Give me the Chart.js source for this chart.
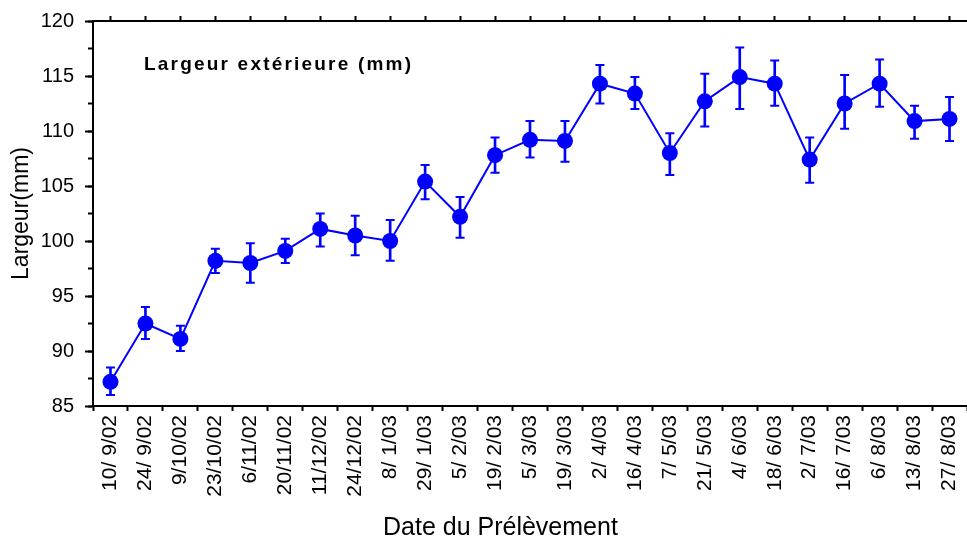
<!DOCTYPE html>
<html>
<head>
<meta charset="utf-8">
<script src="https://cdn.jsdelivr.net/npm/chart.js@4/dist/chart.umd.min.js"></script>
<style>
  html, body { margin: 0; padding: 0; background: #fff; overflow: hidden; }
  #wrap { position: relative; width: 967px; height: 537px; overflow: hidden; }
  #cv { display: block; }
  .lbl { position: absolute; color: #000; white-space: nowrap; font-family: "Liberation Sans", Arial, sans-serif; }
  #inner-title { left: 144px; top: 53px; font-weight: bold; font-size: 19px; line-height: 22px; letter-spacing: 2.2px; }
  #x-title { left: 383px; top: 514px; font-size: 25px; line-height: 25px; }
</style>
</head>
<body>
<div id="wrap">
  <canvas id="cv" width="967" height="537"></canvas>
  <div class="lbl" id="inner-title">Largeur extérieure (mm)</div>
  <div class="lbl" id="x-title">Date du Prélèvement</div>
</div>
<script>
// dates de prélèvement
const dates = ['10/ 9/02','24/ 9/02','9/10/02','23/10/02','6/11/02','20/11/02','11/12/02','24/12/02',
  '8/ 1/03','29/ 1/03','5/ 2/03','19/ 2/03','5/ 3/03','19/ 3/03','2/ 4/03','16/ 4/03','7/ 5/03',
  '21/ 5/03','4/ 6/03','18/ 6/03','2/ 7/03','16/ 7/03','6/ 8/03','13/ 8/03','27/ 8/03'];

// largeur moyenne (mm)
const largeur = [87.2, 92.5, 91.1, 98.2, 98.0, 99.1, 101.1, 100.5,
  100.0, 105.4, 102.2, 107.8, 109.2, 109.1, 114.3, 113.4, 108.0,
  112.7, 114.9, 114.3, 107.4, 112.5, 114.3, 110.9, 111.1];

// bornes des barres d'erreur
const errHaut = [88.5, 94.0, 92.3, 99.3, 99.8, 100.2, 102.5, 102.3,
  101.9, 106.9, 104.0, 109.4, 110.9, 110.9, 116.0, 114.9, 109.8,
  115.2, 117.6, 116.4, 109.4, 115.1, 116.5, 112.3, 113.1];
const errBas = [86.0, 91.1, 90.0, 97.1, 96.2, 98.0, 99.5, 98.7,
  98.2, 103.8, 100.3, 106.2, 107.6, 107.2, 112.5, 112.0, 106.0,
  110.4, 112.0, 112.3, 105.3, 110.2, 112.2, 109.3, 109.1];

const yTicks = { min: 85, max: 120, major: 5, minor: 2.5 };

const BLUE = '#0000ff';
const FONT = '"Liberation Sans", Arial, sans-serif';

new Chart(document.getElementById('cv'), {
  data: {
    labels: dates,
    datasets: [
      { type: 'line', data: largeur, borderColor: BLUE, backgroundColor: BLUE, borderWidth: 2,
        pointRadius: 8, pointBorderWidth: 0, tension: 0, order: 0 },
      { type: 'bar', data: dates.map((d, i) => [errBas[i], errHaut[i]]), backgroundColor: BLUE,
        barThickness: 2, borderWidth: 0, order: 2 },
      { type: 'line', data: errHaut, showLine: false, pointStyle: 'line', pointRadius: 4.5,
        borderColor: BLUE, pointBorderWidth: 2, order: 1 },
      { type: 'line', data: errBas, showLine: false, pointStyle: 'line', pointRadius: 4.5,
        borderColor: BLUE, pointBorderWidth: 2, order: 1 },
    ],
  },
  options: {
    responsive: false, animation: false,
    layout: { padding: 0, autoPadding: false },
    plugins: { legend: { display: false }, tooltip: { enabled: false } },
    scales: {
      x: {
        type: 'category', position: 'bottom', offset: true,
        grid: { drawOnChartArea: false, tickLength: 5, tickWidth: 2, tickColor: '#000' },
        border: { color: '#000', width: 2 },
        ticks: { color: '#000', font: { family: FONT, size: 21 }, minRotation: 90, maxRotation: 90, padding: 4, autoSkip: false },
        afterFit: s => { s.height = 131; s.paddingLeft = 0; s.paddingRight = 0; },
      },
      xTop: {
        type: 'category', position: 'top', offset: true,
        grid: { drawOnChartArea: false, tickLength: 5, tickWidth: 2, tickColor: '#000' },
        border: { color: '#000', width: 2 },
        ticks: { display: false },
        afterFit: s => { s.height = 21; s.paddingLeft = 0; s.paddingRight = 0; },
      },
      y: {
        position: 'left', min: yTicks.min, max: yTicks.max, weight: 1,
        grid: { drawOnChartArea: false, tickLength: 8, tickWidth: 2, tickColor: '#000' },
        border: { color: '#000', width: 2 },
        ticks: { stepSize: yTicks.major, color: '#000', font: { family: FONT, size: 20 }, padding: 11 },
        title: { display: true, text: 'Largeur(mm)', color: '#000', font: { family: FONT, size: 23 }, padding: { top: 8, bottom: 0 } },
        afterFit: s => { s.width = 93; s.paddingTop = 0; s.paddingBottom = 0; },
      },
      yMinor: {
        position: 'left', min: yTicks.min, max: yTicks.max, weight: 0,
        grid: { drawOnChartArea: false, tickLength: 5, tickWidth: 2, tickColor: '#000' },
        border: { display: false },
        ticks: { stepSize: yTicks.minor, display: false },
        afterFit: s => { s.width = 0; s.paddingTop = 0; s.paddingBottom = 0; },
      },
    },
  },
});
</script>
</body>
</html>
